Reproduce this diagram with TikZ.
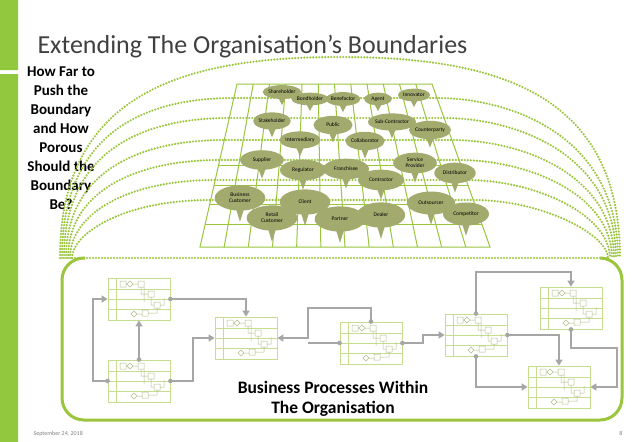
\documentclass[tikz,border=0pt]{standalone}
\usepackage{fontspec}
\setmainfont{Carlito}
\usetikzlibrary{shapes.geometric,arrows.meta,calc}
\definecolor{gbar}{HTML}{92C83E}
\definecolor{gline}{HTML}{9BC53D}
\definecolor{cloudc}{HTML}{A2AA6E}
\definecolor{pgrid}{HTML}{C6DC8E}
\definecolor{arr}{HTML}{A6A6A6}
\tikzset{
 dots/.style={gline,line width=2.4pt,dash pattern=on 0pt off 3pt,line cap=round},
 gridl/.style={gline,line width=1pt},
 cloudn/.style={ellipse,fill=cloudc,inner sep=0pt,font=\fontsize{5.5}{6}\selectfont,align=center},
 procbox/.style={draw=pgrid,line width=0.8pt,minimum width=62pt,minimum height=42pt,inner sep=0pt},
 flow/.style={arr,line width=2pt,-{Triangle[length=6pt,width=7pt]}},
 flowp/.style={arr,line width=2pt},
}
\newcommand\cld[6]{%
 \node[cloudn,minimum width=1.15*#4pt,minimum height=1.15*#5pt] (#1) at (#2,#3) {#6};
 \fill[cloudc] ([xshift=-4pt,yshift=2pt]#1.south) -- ([yshift=-0.5*#5pt]#1.south) -- ([xshift=4pt,yshift=2pt]#1.south) -- cycle;}
\newcommand\proc[3]{%
 \node[procbox] (#1) at (#2+31,#3+21) {};
 \begin{scope}[shift={(#2,#3)}]
  \draw[pgrid,line width=0.6pt] (0,11)--(62,11) (0,21)--(62,21) (0,31)--(62,31) (8,0)--(8,42);
  \draw[pgrid!70!gray,line width=0.5pt] (12,3) rectangle (18,9) (30,3) rectangle (36,9)
   (40,13) rectangle (46,19) (46,24) rectangle (52,30) (34,32) rectangle (40,38)
   (22,3)--(25,6)--(22,9)--(19,6)--cycle (26,33)--(29,36)--(26,39)--(23,36)--cycle
   (18,6)--(19,6) (25,6)--(30,6) (33,9)--(33,16)--(40,16) (43,19)--(43,27)--(46,27)
   (36,9)--(36,24) (40,35)--(49,35)--(49,30) (29,36)--(34,36) (52,27)--(56,27)--(56,20);
 \end{scope}}
\begin{document}
\begin{tikzpicture}[x=1pt,y=-1pt]
\useasboundingbox (0,0) rectangle (638,442);
\fill[white] (0,0) rectangle (638,442);
\fill[gbar] (0,0) rectangle (18,70) (0,74) rectangle (18,442);
\node[anchor=base west,text=black!75,font=\fontsize{26}{30}\selectfont] (title) at (34,53) {Extending The Organisation’s Boundaries};
\node[font=\bfseries\fontsize{15}{19}\selectfont,align=center,anchor=north] (q) at (61,63)
 {How Far to\\Push the\\Boundary\\and How\\Porous\\Should the\\Boundary\\Be?};
% grid
\coordinate (tl) at (237,84); \coordinate (tr) at (432,84);
\coordinate (bl) at (200,247); \coordinate (br) at (490,247);
\draw[gridl] (tl)--(tr)--(br)--(bl)--cycle;
\foreach \i in {1,...,11}{\draw[gridl] ($(tl)!\i/12!(tr)$) -- ($(bl)!\i/12!(br)$);}
\foreach \t in {0.5,0.62,0.74,0.86}{\draw[gridl] ($(tl)!\t!(bl)$) -- ($(tr)!\t!(br)$);}
% dotted arcs
\draw[dots] (60,258) .. controls (60,95) and (180,57) .. (340,57) .. controls (500,57) and (620,95) .. (620,258);
\foreach \r/\s in {98/0,118/2,140/4,160/6,180/8,200/10}{
 \pgfmathsetmacro\xl{237-(\r-84)*37/163}
 \pgfmathsetmacro\xr{432+(\r-84)*58/163}
 \draw[dots] (62+\s,258) .. controls (62+\s,\r+35) and (\xl-90,\r) .. (\xl,\r) -- (\xr,\r) .. controls (\xr+70,\r) and (618-\s,\r+35) .. (618-\s,258);}
\draw[dots] (72,258) -- (608,258);
% bottom box
\draw[gline,line width=3pt,rounded corners=22pt] (85,258) -- (62,258) -- (62,420) -- (622,420) -- (622,258) -- (600,258);
% clouds
\cld{c1}{282}{92}{30}{12}{Shareholder}
\cld{c2}{310}{99}{28}{11}{Bondholder}
\cld{c3}{343}{99}{30}{12}{Benefactor}
\cld{c4}{378}{99}{24}{11}{Agent}
\cld{c5}{414}{95}{28}{11}{Innovator}
\cld{c6}{272}{121}{30}{15}{Stakeholder}
\cld{c7}{333}{125}{34}{16}{Public}
\cld{c8}{392}{122}{38}{15}{Sub-Contractor}
\cld{c9}{430}{130}{36}{16}{Counterparty}
\cld{c10}{300}{140}{34}{15}{Intermediary}
\cld{c11}{365}{141}{34}{16}{Collaborator}
\cld{c12}{262}{160}{38}{17}{Supplier}
\cld{c13}{303}{170}{40}{18}{Regulator}
\cld{c14}{346}{169}{40}{18}{Franchisee}
\cld{c15}{415}{163}{38}{18}{Service\\Provider}
\cld{c16}{381}{180}{40}{18}{Contractor}
\cld{c17}{455}{173}{36}{18}{Distributor}
\cld{c18}{240}{198}{44}{22}{Business\\Customer}
\cld{c19}{305}{202}{44}{22}{Client}
\cld{c20}{431}{203}{42}{20}{Outsourcer}
\cld{c21}{272}{218}{44}{22}{Retail\\Customer}
\cld{c22}{340}{219}{44}{22}{Partner}
\cld{c23}{381}{215}{42}{22}{Dealer}
\cld{c24}{466}{214}{40}{20}{Competitor}
% processes
\proc{p1}{108}{278}
\proc{p2}{108}{360}
\proc{p3}{215}{317}
\proc{p4}{340}{322}
\proc{p5}{445}{314}
\proc{p6}{540}{287}
\proc{p7}{528}{366}
\coordinate (k1) at (308,308);
\coordinate (k3) at (617,348);
\draw[flow] (p1.east) -| (p3.north);
\draw[flow] (p2.north) -- (p1.south);
\draw[flow] (p2.west) -- ++(-15,0) |- (p1.west);
\draw[flow] (p2.east) -- ++(23,0) |- (p3.west);
\draw[flow] (p4.north) |- (k1) |- (p3.east);
\draw[flowp] (p4.west) -- (k1 |- p4.west);
\draw[flow] (p4.east) -- ++(21,0) |- (p5.west);
\draw[flow] (p5.north) -- ++(0,-42) -| (p6.north);
\draw[flow] (p5.east) -| (p7.north);
\draw[flow] (p5.south) |- (p7.west);
\draw[flow] (p6.south) |- (k3) |- (p7.east);
\foreach \p in {p1.east,p2.north,p2.west,p2.east,p4.north,p4.west,p4.east,p5.north,p5.east,p5.south,p6.south}
 \fill[arr] (\p) circle (2.3pt);
\node[font=\bfseries\fontsize{17.5}{20}\selectfont,align=center] (bp) at (333,399) {Business Processes Within\\The Organisation};
\node[anchor=base west,text=black!50,font=\fontsize{6}{7}\selectfont] (date) at (30,435) {September 24, 2018};
\node[anchor=base,text=black!50,font=\fontsize{6}{7}\selectfont] (pg) at (621,435) {8};
\end{tikzpicture}
\end{document}
